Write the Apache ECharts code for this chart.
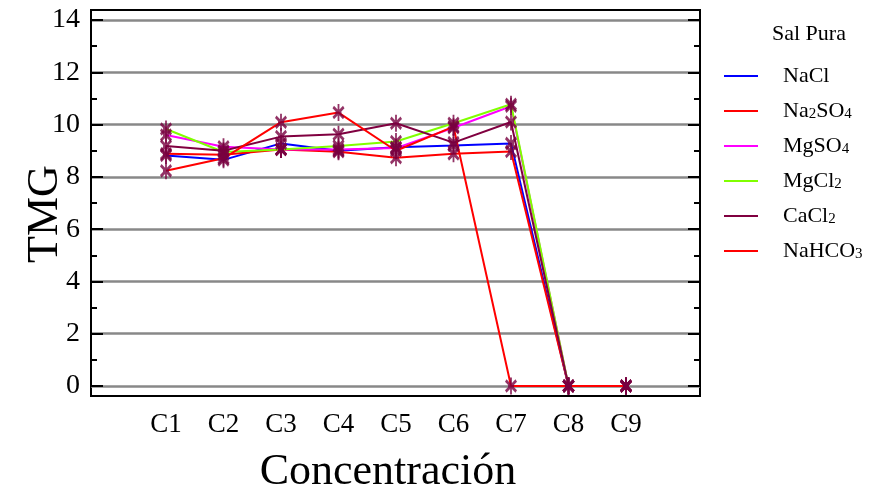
<!DOCTYPE html>
<html>
<head>
<meta charset="utf-8">
<script src="https://cdn.jsdelivr.net/npm/echarts@6/dist/echarts.min.js"></script>
<style>
html,body{margin:0;padding:0;background:#fff;}
#chart{width:874px;height:494px;}
</style>
</head>
<body>
<div id="chart"></div>
<script>
// ---- data ----
const categories = ['C1','C2','C3','C4','C5','C6','C7','C8','C9'];
const seriesNames = ['NaCl','Na2SO4','MgSO4','MgCl2','CaCl2','NaHCO3'];
const nacl   = [8.82, 8.65, 9.28, 9.00, 9.13, 9.20, 9.28, 0, 0];
const na2so4 = [8.88, 8.85, 9.05, 8.96, 8.73, 8.88, 8.97, 0, 0];
const mgso4  = [9.60, 9.15, 9.05, 9.05, 9.10, 9.88, 10.70, 0, 0];
const mgcl2  = [9.83, 8.95, 9.05, 9.18, 9.35, 10.05, 10.78, 0, 0];
const cacl2  = [9.18, 9.00, 9.54, 9.63, 10.05, 9.31, 10.10, 0, 0];
const nahco3 = [8.23, 8.71, 10.09, 10.46, 9.00, 9.92, 0, 0, 0];
const yTicks = [0, 2, 4, 6, 8, 10, 12, 14];

const seriesData = [nacl, na2so4, mgso4, mgcl2, cacl2, nahco3];
const lineColors = ['#0000ff', '#ff0000', '#ff00ff', '#80ff00', '#800040', '#ff0000'];
const markerColor = '#780040';
const legendLabels = {
  'NaCl': 'NaCl',
  'Na2SO4': 'Na{sub|2}SO{sub|4}',
  'MgSO4': 'MgSO{sub|4}',
  'MgCl2': 'MgCl{sub|2}',
  'CaCl2': 'CaCl{sub|2}',
  'NaHCO3': 'NaHCO{sub|3}'
};
const FONT = '"Liberation Serif", "Times New Roman", serif';
const asterisk = 'path://M8.5 0L11.5 0L11.5 20L8.5 20Z M0 5L2.5 2L20 15L17.5 18Z M17.5 2L20 5L2.5 18L0 15Z M5 9L15 9L15 11L5 11Z';

const xy = (arr) => arr.map((v, i) => [i + 1, v]);

const series = [];
seriesNames.forEach((n, k) => {
  series.push({
    name: n, type: 'line', xAxisIndex: 2, yAxisIndex: 3,
    data: xy(seriesData[k]), symbol: 'none',
    itemStyle: { color: lineColors[k] },
    lineStyle: { color: lineColors[k], width: 2 },
    z: 2, animation: false
  });
});
seriesNames.forEach((n, k) => {
  series.push({
    name: 'm_' + n, type: 'scatter', xAxisIndex: 2, yAxisIndex: 3,
    data: xy(seriesData[k]), symbol: asterisk, symbolSize: [12, 17],
    itemStyle: { color: markerColor }, z: 3, animation: false
  });
});

const tickStyle = { color: '#000', width: 2 };

const chart = echarts.init(document.getElementById('chart'));
chart.setOption({
  animation: false,
  backgroundColor: '#fff',
  title: {
    text: 'Sal Pura', left: 767, top: 18,
    textStyle: { fontFamily: FONT, fontSize: 22, fontWeight: 'normal', color: '#000' }
  },
  legend: {
    orient: 'vertical', left: 719, top: 60,
    data: seriesNames.map((n, k) => ({ name: n, itemStyle: { color: lineColors[k] } })),
    icon: 'rect', itemWidth: 34, itemHeight: 2, itemGap: 13,
    formatter: (name) => legendLabels[name],
    textStyle: {
      fontFamily: FONT, fontSize: 22, color: '#000', padding: [0, 0, 0, 20],
      rich: {
        sub: { fontFamily: FONT, fontSize: 15, lineHeight: 15, verticalAlign: 'bottom', color: '#000' }
      }
    }
  },
  grid: [
    { left: 91, width: 609, top: 10, height: 386, show: true, borderColor: '#000', borderWidth: 2,
      backgroundColor: 'transparent', outerBoundsMode: 'none' },
    { left: 91, width: 609, top: 20, height: 366, outerBoundsMode: 'none' },
    { left: 108.5, width: 575, top: 20, height: 366, outerBoundsMode: 'none' }
  ],
  xAxis: [
    { gridIndex: 0, type: 'value', show: false, min: 0, max: 1 },
    { gridIndex: 1, type: 'value', show: false, min: 0, max: 1 },
    { gridIndex: 2, type: 'value', min: 0, max: 10, interval: 1,
      axisLine: { show: false }, axisTick: { show: false }, splitLine: { show: false },
      axisLabel: {
        margin: 25, fontFamily: FONT, fontSize: 27, color: '#000',
        formatter: (v) => (v >= 1 && v <= categories.length) ? categories[v - 1] : ''
      },
      name: 'Concentración', nameLocation: 'middle', nameGap: 64, nameMoveOverlap: false,
      nameTextStyle: { fontFamily: FONT, fontSize: 44, color: '#000', padding: [0, 16, 0, 0] }
    }
  ],
  yAxis: [
    { gridIndex: 0, type: 'value', show: false, min: 0, max: 1 },
    { gridIndex: 1, type: 'value', min: 0, max: 14, interval: 2, position: 'left',
      axisLine: { show: true, lineStyle: { color: '#000', width: 2 } },
      axisTick: { show: true, inside: true, length: 12, lineStyle: tickStyle },
      minorTick: { show: true, splitNumber: 2, length: 6, lineStyle: tickStyle },
      splitLine: { show: true, lineStyle: { color: '#888', width: 2.5 } },
      axisLabel: { margin: 11, fontFamily: FONT, fontSize: 28, color: '#000',
        formatter: (v) => yTicks.indexOf(v) >= 0 ? String(v) : '' },
      name: 'TMG', nameLocation: 'middle', nameRotate: 90, nameGap: 24, nameMoveOverlap: false,
      nameTextStyle: { fontFamily: FONT, fontSize: 44, color: '#000', padding: [0, 22, 0, 0] }
    },
    { gridIndex: 1, type: 'value', min: 0, max: 14, interval: 2, position: 'right',
      axisLine: { show: true, lineStyle: { color: '#000', width: 2 } },
      axisTick: { show: true, inside: true, length: 12, lineStyle: tickStyle },
      minorTick: { show: true, splitNumber: 2, length: 6, lineStyle: tickStyle },
      splitLine: { show: false }, axisLabel: { show: false }
    },
    { gridIndex: 2, type: 'value', min: 0, max: 14, show: false }
  ],
  series: series
});
</script>
</body>
</html>
